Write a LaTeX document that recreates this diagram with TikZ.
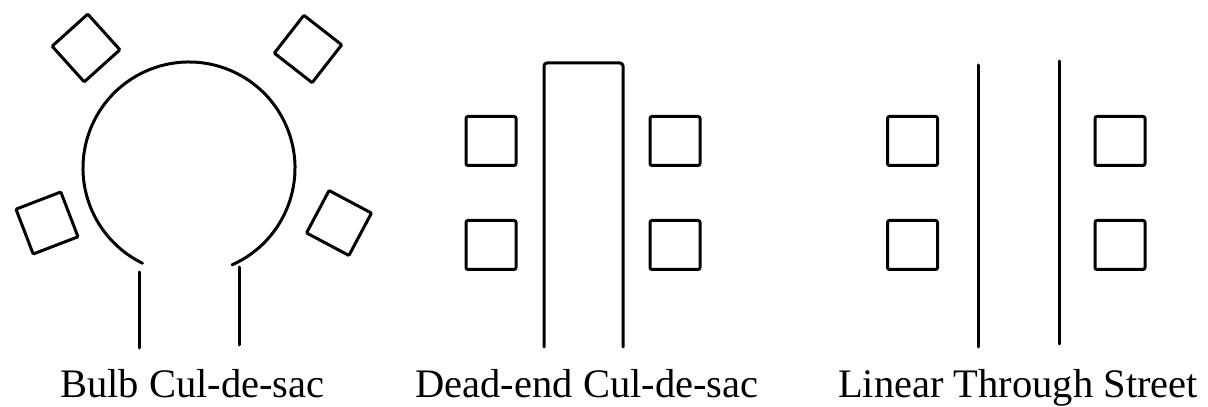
\documentclass[tikz,border=0pt]{standalone}
\usepackage{fontspec}
\setmainfont{Liberation Serif}
\usetikzlibrary{positioning}

\begin{document}
\begin{tikzpicture}[x=1pt, y=1pt,
  lot/.style={draw, line width=3pt, minimum width=50pt, minimum height=49pt,
    inner sep=0pt, rounded corners=2pt},
  bulblot/.style={lot, minimum width=48pt, minimum height=48pt, rounded corners=1pt},
  road/.style={line width=3pt, line cap=round, line join=round},
  caption/.style={font=\fontsize{40.5}{48}\selectfont, anchor=base, inner sep=0pt}]
  \useasboundingbox (0,0) rectangle (1208,407);
  % bulb cul-de-sac
  \coordinate (bulb) at (189,239);
  \draw[road] (bulb) ++(-66:106) arc[start angle=-66, end angle=244, radius=106];
  \draw[road] (139.5,135) -- (139.5,59);
  \draw[road] (239,140) -- (239,62);
  \node[bulblot, rotate=42] (b1) at (86,359) {};
  \node[bulblot, rotate=52] (b2) at (308,358) {};
  \node[bulblot, rotate=21] (b3) at (47,184) {};
  \node[bulblot, rotate=62] (b4) at (339,184) {};
  \node[caption] (cap1) at (192.5,9) {Bulb Cul-de-sac};
  % dead-end cul-de-sac
  \draw[road, rounded corners=3pt] (544,60) -- (544,344) -- (623,344) -- (623,60);
  \node[lot] (d1) at (491,266) {};
  \node[lot] (d2) at (491,162) {};
  \node[lot] (d3) at (675,266) {};
  \node[lot] (d4) at (675,162) {};
  \node[caption] (cap2) at (587,9) {Dead-end Cul-de-sac};
  % linear through street
  \draw[road] (978,60) -- (978,342);
  \draw[road] (1059,63) -- (1059,346);
  \node[lot] (l1) at (912.5,266) {};
  \node[lot] (l2) at (912.5,162) {};
  \node[lot] (l3) at (1120,266) {};
  \node[lot] (l4) at (1120,162) {};
  \node[caption] (cap3) at (1018,9) {Linear Through Street};
\end{tikzpicture}
\end{document}
